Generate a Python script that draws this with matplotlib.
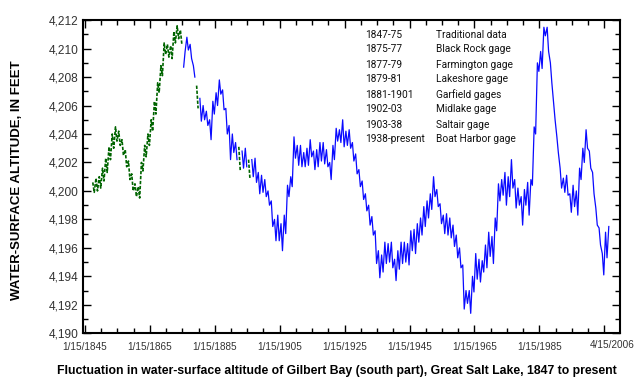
import numpy as np
import matplotlib
matplotlib.use('Agg')
import matplotlib.pyplot as plt
import matplotlib.transforms as mtransforms
from matplotlib.ticker import MultipleLocator, FuncFormatter

plt.rcParams['font.family'] = ['Liberation Sans', 'DejaVu Sans']

# Lake level: spring high and fall low for each year 1847-2006
first_year = 1847
spring_high = [
    4200.6, 4200.9, 4201.0, 4201.6, 4202.3, 4203.1, 4204.0, 4204.5, 4204.2, 4203.6,  # 1847-56
    4202.9, 4202.1, 4201.2, 4200.5, 4200.3, 4202.0, 4203.2, 4204.0, 4205.0, 4206.3,  # 1857-66
    4207.6, 4208.8, 4210.4, 4210.3, 4210.2, 4211.2, 4211.6, 4211.3, 4208.7, 4210.8,  # 1867-76
    4210.3, 4208.8, 4207.4, 4206.5, 4206.0, 4205.6, 4205.0, 4206.3, 4206.9, 4207.8,  # 1877-86
    4207.1, 4205.8, 4204.6, 4204.0, 4203.4, 4203.1, 4202.8, 4203.0, 4202.2, 4202.2,  # 1887-96
    4202.3, 4201.3, 4201.1, 4200.8, 4200.0, 4199.3, 4198.0, 4198.3, 4197.7, 4198.3,  # 1897-1906
    4200.4, 4201.0, 4203.8, 4203.2, 4203.2, 4202.7, 4203.0, 4203.6, 4202.8, 4202.9,  # 1907-16
    4203.4, 4203.4, 4202.9, 4202.0, 4203.2, 4204.4, 4204.3, 4205.0, 4204.2, 4204.3,  # 1917-26
    4203.4, 4202.6, 4201.5, 4200.7, 4199.8, 4199.0, 4198.2, 4197.2, 4195.8, 4195.5,  # 1927-36
    4196.4, 4196.3, 4196.4, 4195.2, 4195.8, 4196.4, 4196.4, 4196.3, 4197.2, 4197.3,  # 1937-46
    4197.7, 4198.1, 4198.9, 4199.3, 4199.8, 4201.0, 4200.1, 4199.1, 4198.3, 4198.4,  # 1947-56
    4198.1, 4197.6, 4196.9, 4196.0, 4194.8, 4193.0, 4193.0, 4194.0, 4195.6, 4195.2,  # 1957-66
    4195.1, 4196.2, 4197.1, 4196.8, 4198.1, 4200.5, 4200.8, 4201.3, 4201.0, 4202.2,  # 1967-76
    4200.8, 4200.2, 4199.6, 4200.1, 4200.6, 4200.8, 4204.5, 4209.0, 4209.8, 4211.5,  # 1977-86
    4211.5, 4209.0, 4206.2, 4203.8, 4201.6, 4200.9, 4201.1, 4199.8, 4200.4, 4200.0,  # 1987-96
    4201.6, 4203.0, 4204.3, 4202.8, 4201.3, 4198.8, 4197.4, 4195.6, 4197.1, 4197.5,  # 1997-2006
]
fall_low = [
    4199.9, 4200.0, 4200.2, 4200.7, 4201.3, 4202.2, 4203.0, 4203.5, 4203.2, 4202.5,
    4201.7, 4200.8, 4200.0, 4199.6, 4199.5, 4201.4, 4202.4, 4203.2, 4204.2, 4205.4,
    4206.9, 4208.1, 4209.6, 4209.4, 4209.3, 4210.4, 4210.7, 4210.3, 4209.8, 4209.9,
    4209.3, 4208.0, 4205.8, 4204.9, 4205.0, 4204.6, 4203.6, 4205.4, 4206.0, 4206.8,
    4205.7, 4204.0, 4202.2, 4202.7, 4202.2, 4201.4, 4201.6, 4201.7, 4200.8, 4201.0,
    4200.6, 4199.8, 4199.9, 4199.6, 4199.0, 4197.5, 4196.5, 4196.5, 4195.8, 4197.0,
    4199.6, 4200.3, 4202.3, 4201.8, 4201.7, 4201.7, 4201.8, 4202.4, 4201.5, 4201.7,
    4202.1, 4201.9, 4201.7, 4200.8, 4202.2, 4203.5, 4203.4, 4203.1, 4203.2, 4203.0,
    4202.1, 4201.2, 4200.3, 4199.4, 4198.6, 4197.6, 4196.9, 4194.9, 4193.9, 4194.3,
    4194.9, 4195.0, 4194.6, 4193.7, 4194.5, 4194.9, 4195.0, 4194.8, 4195.8, 4195.6,
    4196.4, 4196.9, 4197.5, 4198.1, 4198.7, 4199.6, 4198.9, 4197.7, 4197.0, 4196.9,
    4196.7, 4196.1, 4195.3, 4194.6, 4191.7, 4192.1, 4191.4, 4192.9, 4193.8, 4193.6,
    4194.3, 4194.6, 4195.4, 4194.9, 4197.2, 4199.3, 4199.7, 4199.0, 4199.6, 4200.2,
    4198.8, 4199.0, 4197.6, 4199.0, 4198.3, 4200.4, 4204.0, 4208.4, 4208.6, 4210.9,
    4209.8, 4207.6, 4205.0, 4202.7, 4200.2, 4199.9, 4199.7, 4198.5, 4198.9, 4198.3,
    4200.8, 4202.0, 4203.0, 4201.6, 4199.8, 4197.6, 4196.2, 4194.1, 4195.3, None,
]
# years drawn dotted green (traditional / estimated records)
traditional_end = 1875
estimated_years = [1879, 1892, 1895]

periods = ['1847-75', '1875-77', '1877-79', '1879-81', '1881-1901',
           '1902-03', '1903-38', '1938-present']
gages = ['Traditional data', 'Black Rock gage', 'Farmington gage', 'Lakeshore gage',
         'Garfield gages', 'Midlake gage', 'Saltair gage', 'Boat Harbor gage']

tick_years = [1845, 1865, 1885, 1905, 1925, 1945, 1965, 1985, 2005]
tick_labels = ['1/15/1845', '1/15/1865', '1/15/1885', '1/15/1905', '1/15/1925',
               '1/15/1945', '1/15/1965', '1/15/1985', '']

# build series
years = first_year + np.arange(len(spring_high))
hi = np.array(spring_high, dtype=float)
lo = np.array([np.nan if v is None else v for v in fall_low], dtype=float)
t = np.column_stack([years + 0.4, years + 0.85]).ravel()
v = np.column_stack([hi, lo]).ravel()
est = (years < traditional_end) | np.isin(years, estimated_years)
est = np.repeat(est, 2)
blue = np.where(est, np.nan, v)
green = np.where(est, v, np.nan)

fig = plt.figure(figsize=(6.4, 3.8), dpi=100)
ax = fig.add_axes([0.130, 0.123, 0.839, 0.824])

ax.plot(t, blue, color='#0a0aff', lw=0.9)
ax.plot(t, green, color='#006400', lw=1.2, linestyle=(0, (2, 1)))

ax.set_xlim(1844.45, 2009.9)
ax.set_ylim(4190, 4212)

ax.set_xticks(tick_years)
ax.set_xticklabels(tick_labels)
ax.xaxis.set_minor_locator(MultipleLocator(5))
ax.yaxis.set_major_locator(MultipleLocator(2))
ax.yaxis.set_minor_locator(MultipleLocator(1))
ax.yaxis.set_major_formatter(FuncFormatter(lambda x, p: '{:,.0f}'.format(x)))

ax.tick_params(which='both', direction='in', top=True, right=True, color='black', width=1)
ax.tick_params(which='major', length=5.5)
ax.tick_params(which='minor', length=3.5)
ax.tick_params(axis='x', which='major', labelsize=7.2, pad=6, labelcolor='#333333')
ax.tick_params(axis='y', which='major', labelsize=8.6, pad=3.5, labelcolor='#333333')
for s in ax.spines.values():
    s.set_linewidth(1.5)

# last tick label sits a bit higher and to the right
trans = mtransforms.blended_transform_factory(ax.transData, ax.transAxes)
ax.text(2007.4, -0.039, '4/15/2006', transform=trans, ha='center', va='center',
        fontsize=7.2, color='#333333')

ax.set_ylabel('WATER-SURFACE ALTITUDE, IN FEET', fontsize=9.5, fontweight='bold', labelpad=0)
ax.yaxis.set_label_coords(-0.112, 0.49)
ax.set_xlabel('Fluctuation in water-surface altitude of Gilbert Bay (south part), '
              'Great Salt Lake, 1847 to present', fontsize=8.85, fontweight='bold')
ax.xaxis.set_label_coords(0.472, -0.10)

# gage key
key_font = ['Roboto', 'DejaVu Sans']
for i in range(len(periods)):
    y = 1 - (34.5 + 15 * i) / 380
    fig.text(365 / 640, y, periods[i], fontsize=7.3, family=key_font,
             va='center', color='#111111')
    fig.text(436 / 640, y, gages[i], fontsize=7.3, family=key_font,
             va='center', color='#111111')

fig.savefig('out.png', dpi=100)
